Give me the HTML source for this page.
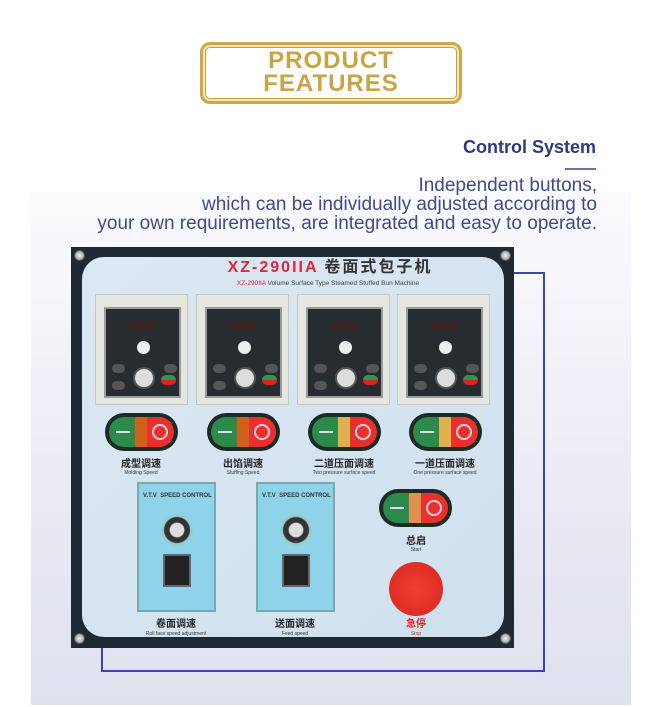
<!DOCTYPE html>
<html><head><meta charset="utf-8">
<style>
*{margin:0;padding:0;box-sizing:border-box}
body{width:672px;height:707px;background:#fff;position:relative;overflow:hidden;font-family:"Liberation Sans","Noto Sans CJK SC",sans-serif}
.abs{position:absolute}
.bg{left:31px;top:192px;width:600px;height:513px;background:linear-gradient(#fbfbfe,#e9eaf4 60%,#dfe1ee)}
.frame{left:200px;top:42px;width:262px;height:62px;border:3px solid #cfa84a;border-radius:10px;box-shadow:inset 0 0 0 2px #f5e6b8, inset 0 0 0 3px #c9a040}
.pf{left:200px;top:49px;width:262px;text-align:center;color:#c9a445;font-weight:bold;font-size:24px;line-height:23px;letter-spacing:1px}
.cs{right:76px;top:137px;color:#2d3a82;font-weight:bold;font-size:18px}
.ul{left:565px;top:168px;width:31px;height:2px;background:#6b74a8}
.desc{right:75px;top:176px;text-align:right;color:#3e4a8c;font-size:19px;line-height:19px}
.blue{left:101px;top:272px;width:444px;height:400px;border:2px solid #3a45b0}
.outer{left:71px;top:247px;width:443px;height:401px;background:#1e2933}
.inner{left:82px;top:257px;width:422px;height:380px;background:linear-gradient(135deg,#dbe8f3,#cfe0ee);border-radius:22px}
.screw{width:11px;height:11px;border-radius:50%;background:radial-gradient(#eee,#888);border:1px solid #555}
.t1{left:220px;top:259px;width:220px;text-align:center;font-size:16px;line-height:18px;font-weight:bold;letter-spacing:2px;color:#333;white-space:nowrap}
.t1 span{color:#d8283a}
.t2{left:226px;top:280px;width:204px;text-align:center;font-size:6.5px;color:#444;white-space:nowrap}
.t2 span{color:#d8283a}
.ctl{width:93px;height:111px;background:#e6e6e1;border:1px solid #c8c8c2}
.ctl .d{position:absolute;left:8px;top:12px;width:77px;height:91px;background:#262c30;border:2px solid #9a9a98}
.ctl .seg{position:absolute;left:22px;top:10px;width:40px;height:14px;color:#4a2020;font-size:13px;font-weight:bold;font-family:"Liberation Mono",monospace;letter-spacing:-1px}
.ctl .knob{position:absolute;left:31px;top:32px;width:13px;height:13px;border-radius:50%;background:#eee}
.ctl .b{position:absolute;width:13px;height:9px;border-radius:5px;background:#555}
.ctl .ring{position:absolute;left:27px;top:58px;width:22px;height:22px;border-radius:50%;background:#ddd;border:2px solid #555}
.ctl .g{position:absolute;left:55px;top:66px;width:15px;height:10px;border-radius:5px;background:linear-gradient(#2a9a4a 50%,#d22 50%)}
.btn{width:73px;height:38px;border-radius:19px;background:#1d2a25;}
.btn .gr{position:absolute;left:4px;top:4px;width:32px;height:30px;border-radius:15px 0 0 15px;background:#2c8a4a}
.btn .gr i{position:absolute;left:7px;top:14px;width:14px;height:2px;background:#dde}
.btn .or{position:absolute;left:30px;top:4px;width:12px;height:30px;background:#d0601a}
.btn .rd{position:absolute;left:42px;top:4px;width:27px;height:30px;border-radius:0 15px 15px 0;background:#e8302c}
.btn .rd i{position:absolute;left:5px;top:7px;width:16px;height:16px;border-radius:50%;border:2px solid #fcd}
.lab{text-align:center;font-weight:bold;font-size:10px;line-height:10px;color:#222;width:100px}
.sub{text-align:center;font-size:5px;line-height:6px;color:#333;width:100px}
.sc{width:79px;height:130px;background:#8fd3ea;border:2px solid #7aa;}
.sc .h{position:absolute;left:4px;top:9px;font-size:6px;font-weight:bold;color:#333;white-space:nowrap}
.sc .dial{position:absolute;left:22px;top:30px;width:32px;height:32px;border-radius:50%;background:radial-gradient(#ddd 30%,#333 35%,#333 55%,#9cc 60%)}
.sc .sw{position:absolute;left:24px;top:70px;width:28px;height:33px;background:#222;border:2px solid #666}
</style></head><body>
<div class="abs bg"></div>
<div class="abs frame"></div>
<div class="abs pf">PRODUCT<br>FEATURES</div>
<div class="abs cs">Control System</div>
<div class="abs ul"></div>
<div class="abs desc">Independent buttons,<br>which can be individually adjusted according to<br>your own requirements, are integrated and easy to operate.</div>
<div class="abs blue"></div>
<div class="abs outer"></div>
<div class="abs inner"></div>
<div class="abs screw" style="left:74px;top:250px"></div>
<div class="abs screw" style="left:500px;top:250px"></div>
<div class="abs screw" style="left:74px;top:633px"></div>
<div class="abs screw" style="left:500px;top:633px"></div>
<div class="abs t1"><span>XZ-290IIA</span> 卷面式包子机</div>
<div class="abs t2"><span>XZ-290IIA</span> Volume Surface Type Steamed Stuffed Bun Machine</div>

<div class="abs ctl" style="left:95px;top:294px"><div class="d"><div class="seg">8888</div><div class="knob"></div><div class="b" style="left:6px;top:55px"></div><div class="b" style="left:58px;top:55px"></div><div class="b" style="left:6px;top:72px"></div><div class="ring"></div><div class="g"></div></div></div>
<div class="abs ctl" style="left:196px;top:294px"><div class="d"><div class="seg">8888</div><div class="knob"></div><div class="b" style="left:6px;top:55px"></div><div class="b" style="left:58px;top:55px"></div><div class="b" style="left:6px;top:72px"></div><div class="ring"></div><div class="g"></div></div></div>
<div class="abs ctl" style="left:297px;top:294px"><div class="d"><div class="seg">8888</div><div class="knob"></div><div class="b" style="left:6px;top:55px"></div><div class="b" style="left:58px;top:55px"></div><div class="b" style="left:6px;top:72px"></div><div class="ring"></div><div class="g"></div></div></div>
<div class="abs ctl" style="left:397px;top:294px"><div class="d"><div class="seg">8888</div><div class="knob"></div><div class="b" style="left:6px;top:55px"></div><div class="b" style="left:58px;top:55px"></div><div class="b" style="left:6px;top:72px"></div><div class="ring"></div><div class="g"></div></div></div>

<div class="abs btn" style="left:105px;top:413px"><div class="gr"><i></i></div><div class="or"></div><div class="rd"><i></i></div></div>
<div class="abs btn" style="left:207px;top:413px"><div class="gr"><i></i></div><div class="or"></div><div class="rd"><i></i></div></div>
<div class="abs btn" style="left:308px;top:413px"><div class="gr"><i></i></div><div class="or" style="background:#e0b050"></div><div class="rd"><i></i></div></div>
<div class="abs btn" style="left:409px;top:413px"><div class="gr"><i></i></div><div class="or" style="background:#e0b050"></div><div class="rd"><i></i></div></div>

<div class="abs lab" style="left:91px;top:460px">成型调速</div><div class="abs sub" style="left:91px;top:470px">Molding Speed</div>
<div class="abs lab" style="left:193px;top:460px">出馅调速</div><div class="abs sub" style="left:193px;top:470px">Stuffing Speed</div>
<div class="abs lab" style="left:294px;top:460px">二道压面调速</div><div class="abs sub" style="left:294px;top:470px">Two pressure surface speed</div>
<div class="abs lab" style="left:395px;top:460px">一道压面调速</div><div class="abs sub" style="left:395px;top:470px">One pressure surface speed</div>

<div class="abs sc" style="left:137px;top:482px"><div class="h">V.T.V &nbsp;SPEED CONTROL</div><div class="dial"></div><div class="sw"></div></div>
<div class="abs sc" style="left:256px;top:482px"><div class="h">V.T.V &nbsp;SPEED CONTROL</div><div class="dial"></div><div class="sw"></div></div>
<div class="abs lab" style="left:126px;top:620px">卷面调速</div><div class="abs sub" style="left:126px;top:631px">Roll face speed adjustment</div>
<div class="abs lab" style="left:245px;top:620px">送面调速</div><div class="abs sub" style="left:245px;top:631px">Feed speed</div>

<div class="abs btn" style="left:379px;top:489px"><div class="gr"><i></i></div><div class="or" style="background:#e09050"></div><div class="rd"><i></i></div></div>
<div class="abs lab" style="left:366px;top:537px">总启</div><div class="abs sub" style="left:366px;top:547px">Start</div>
<div class="abs" style="left:389px;top:562px;width:54px;height:54px;border-radius:50%;background:radial-gradient(#f04030,#d82520)"></div>
<div class="abs lab" style="left:366px;top:620px;color:#e02020">急停</div><div class="abs sub" style="left:366px;top:631px;color:#e02020">Stop</div>
</body></html>
